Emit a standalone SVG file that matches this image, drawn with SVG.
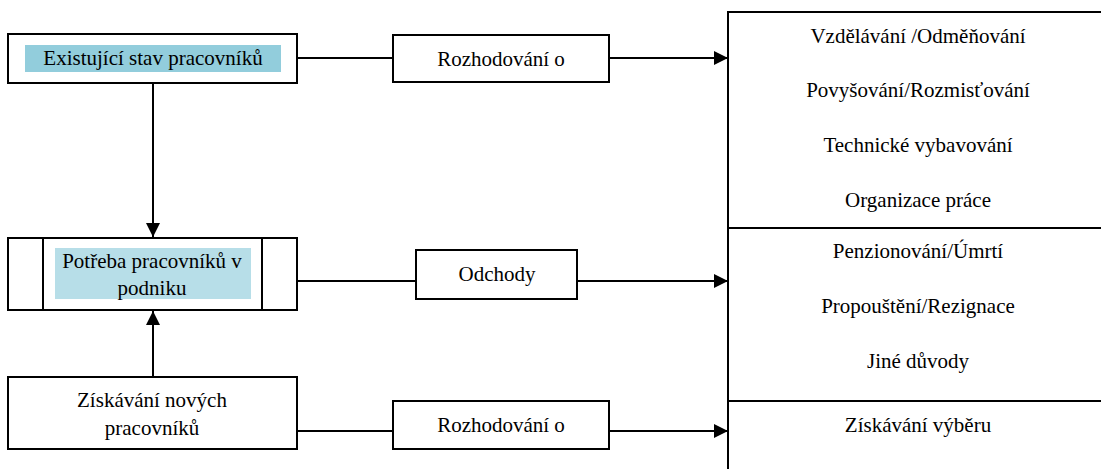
<svg xmlns="http://www.w3.org/2000/svg" width="1101" height="469" viewBox="0 0 1101 469">
<style>
.box{fill:#fff;stroke:#000;stroke-width:2}
.ln{fill:none;stroke:#000;stroke-width:2}
.t{font-family:'Liberation Serif','Times New Roman',Tinos,'DejaVu Serif',serif;font-size:21px;fill:#000;text-anchor:middle}
</style>
<defs>
<marker id="ah" markerWidth="14" markerHeight="14" viewBox="0 0 14 14" refX="14" refY="7" orient="auto" markerUnits="userSpaceOnUse">
<path d="M0,0 L14,7 L0,14 Z" fill="#000"/>
</marker>
</defs>
<rect width="1101" height="469" fill="#fff"/>
<g id="connectors">
<line class="ln" x1="153" y1="83" x2="153" y2="237" marker-end="url(#ah)"/>
<line class="ln" x1="153" y1="377" x2="153" y2="311" marker-end="url(#ah)"/>
<line class="ln" x1="297" y1="58" x2="393" y2="58"/>
<line class="ln" x1="609" y1="58" x2="728" y2="58" marker-end="url(#ah)"/>
<line class="ln" x1="297" y1="281" x2="416" y2="281"/>
<line class="ln" x1="577" y1="281" x2="728" y2="281" marker-end="url(#ah)"/>
<line class="ln" x1="297" y1="431" x2="393" y2="431"/>
<line class="ln" x1="609" y1="431" x2="728" y2="431" marker-end="url(#ah)"/>
</g>
<g id="existujici">
<rect class="box" x="8" y="34" width="289" height="49"/>
<rect x="25" y="45" width="256" height="27" fill="#92CDDC"/>
<text class="t" x="153" y="65" font-family="Liberation Serif, serif">Existující stav pracovníků</text>
</g>
<g id="potreba">
<rect class="box" x="8" y="238" width="289" height="72"/>
<line class="ln" x1="43" y1="238" x2="43" y2="310"/>
<line class="ln" x1="262" y1="238" x2="262" y2="310"/>
<rect x="55" y="248" width="196" height="51" fill="#B7DEE8"/>
<text class="t" x="152" y="268">Potřeba pracovníků v</text>
<text class="t" x="152" y="295">podniku</text>
</g>
<g id="ziskavani">
<rect class="box" x="8" y="377" width="289" height="72"/>
<text class="t" x="152" y="407">Získávání nových</text>
<text class="t" x="152" y="435">pracovníků</text>
</g>
<g id="rozhodovani1">
<rect class="box" x="393" y="35" width="216" height="47"/>
<text class="t" x="501" y="66">Rozhodování o</text>
</g>
<g id="odchody">
<rect class="box" x="416" y="250" width="161" height="49"/>
<text class="t" x="497" y="281">Odchody</text>
</g>
<g id="rozhodovani2">
<rect class="box" x="393" y="401" width="216" height="48"/>
<text class="t" x="501" y="432">Rozhodování o</text>
</g>
<g id="vysledky">
<rect class="box" x="728" y="12" width="400" height="480"/>
<line class="ln" x1="728" y1="228" x2="1101" y2="228"/>
<line class="ln" x1="728" y1="401" x2="1101" y2="401"/>
<text class="t" x="918" y="43">Vzdělávání /Odměňování</text>
<text class="t" x="918" y="97">Povyšování/Rozmisťování</text>
<text class="t" x="918" y="152">Technické vybavování</text>
<text class="t" x="918" y="207">Organizace práce</text>
<text class="t" x="918" y="258">Penzionování/Úmrtí</text>
<text class="t" x="918" y="313">Propouštění/Rezignace</text>
<text class="t" x="918" y="368">Jiné důvody</text>
<text class="t" x="918" y="432">Získávání výběru</text>
</g>
</svg>
